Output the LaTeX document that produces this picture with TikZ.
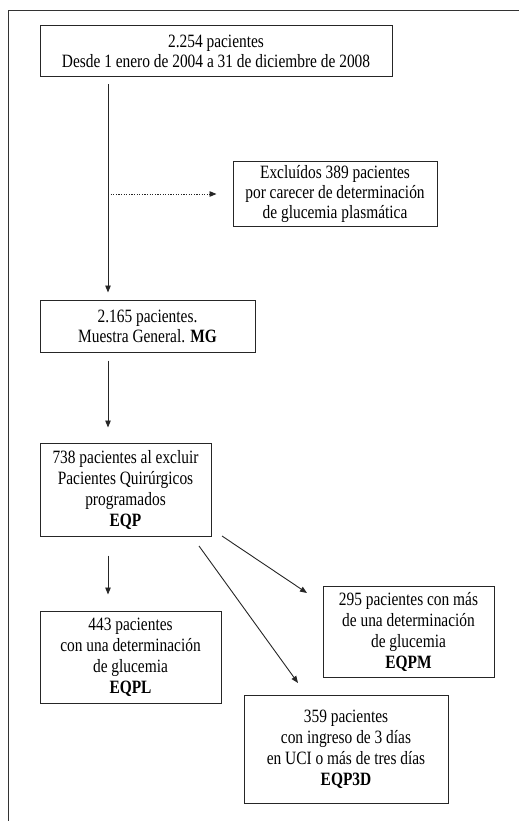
\documentclass[tikz,border=0pt]{standalone}
\usepackage{fontspec}
\setmainfont{Liberation Serif}[FakeStretch=0.82]
\usetikzlibrary{arrows.meta}
\begin{document}
\begin{tikzpicture}[x=1pt,y=-1pt,
  box/.style={draw=black!85,line width=1pt,align=center,inner sep=0pt,
    font=\fontsize{18.8}{21}\selectfont},
  arr/.style={draw=black!85,line width=0.9pt,-{Triangle[length=7pt,width=5.5pt]}},
  dotarr/.style={arr,dash pattern=on 1.2pt off 1.4pt}]
\useasboundingbox (0,0) rectangle (519,821);
\draw[line width=1.4pt,black!80] (8.5,821) -- (8.5,10.5) -- (519,10.5);
\node[box,minimum width=352pt,minimum height=51pt,font=\fontsize{18.8}{19.5}\selectfont] (b1) at (216,51.5)
  {2.254 pacientes\\Desde 1 enero de 2004 a 31 de diciembre de 2008};
\node[box,minimum width=204pt,minimum height=64pt,font=\fontsize{18.8}{20}\selectfont] (ex) at (335,194)
  {Excluídos 389 pacientes\\por carecer de determinación\\de glucemia plasmática};
\node[box,minimum width=215pt,minimum height=52pt,font=\fontsize{18.8}{20}\selectfont] (mg) at (147.5,326)
  {2.165 pacientes.\\Muestra General. \textbf{MG}};
\node[box,minimum width=171pt,minimum height=93pt] (eqp) at (125.5,489.5)
  {738 pacientes al excluir\\Pacientes Quirúrgicos\\programados\\\textbf{EQP}};
\node[box,minimum width=181pt,minimum height=92pt] (eqpl) at (130.5,657)
  {443 pacientes\\con una determinación\\de glucemia\\\textbf{EQPL}};
\node[box,minimum width=171pt,minimum height=91pt] (eqpm) at (408.5,631.5)
  {295 pacientes con más\\de una determinación\\de glucemia\\\textbf{EQPM}};
\node[box,minimum width=204pt,minimum height=108pt] (eqp3d) at (346,749)
  {359 pacientes\\con ingreso de 3 días\\en UCI o más de tres días\\\textbf{EQP3D}};
\coordinate (x108) at (108,0);
\coordinate (m1) at (222,536);
\coordinate (m2) at (307,593);
\coordinate (d1) at (199,546);
\coordinate (d2) at (298,683);
\draw[arr,shorten <=7pt,shorten >=7pt] (b1.south -| x108) -- (mg.north -| x108);
\draw[dotarr,shorten >=16pt] (x108 |- ex.west) -- (ex.west);
\draw[arr,shorten <=8pt,shorten >=15pt] (mg.south -| x108) -- (eqp.north -| x108);
\draw[arr,shorten <=19pt,shorten >=16pt] (eqp.south -| x108) -- (eqpl.north -| x108);
\draw[arr] (m1) -- (m2);
\draw[arr] (d1) -- (d2);
\end{tikzpicture}
\end{document}
